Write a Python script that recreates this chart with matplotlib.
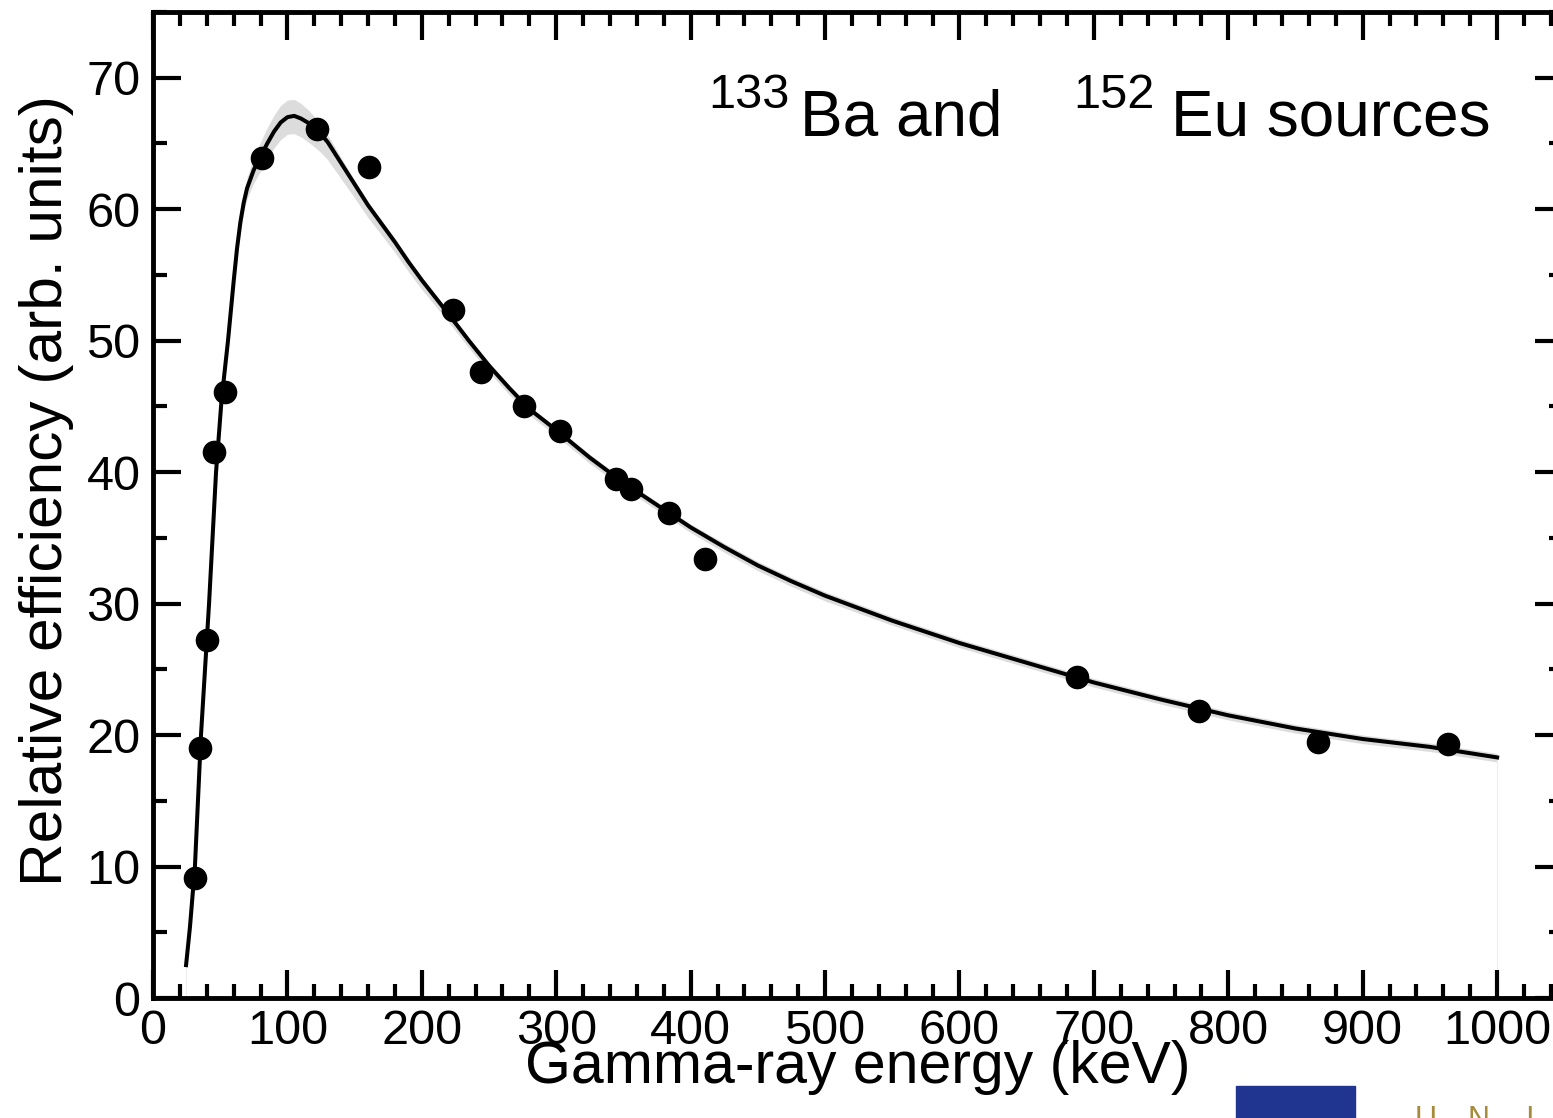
import numpy as np
import matplotlib.pyplot as plt
from matplotlib.patches import Rectangle

plt.rcParams['font.family'] = ['Liberation Sans', 'DejaVu Sans']

# measured relative efficiency points
energy = [31.2, 35.0, 40.2, 45.4, 53.6, 81.1, 122.0, 160.7, 223.2, 244.0,
          276.0, 302.8, 344.5, 355.7, 383.9, 410.7, 687.5, 778.3, 866.8, 963.5]
efficiency = [9.1, 19.0, 27.2, 41.5, 46.1, 63.9, 66.1, 63.2, 52.3, 47.6,
              45.0, 43.1, 39.5, 38.7, 36.9, 33.4, 24.4, 21.8, 19.5, 19.3]

# fitted efficiency curve with its uncertainty band
fit_energy = [24.6, 27.5, 31.2, 35.7, 41.7, 46.9, 51.0, 55.8, 60.0, 62.5,
              65.0, 67.5, 70.0, 75.0, 80.0, 85.0, 90.0, 95.0, 100.0, 105.0,
              110.0, 115.0, 120.0, 125.0, 130.0, 140.0, 150.0, 160.0, 170.0, 180.0,
              190.0, 200.0, 210.0, 220.0, 235.0, 250.0, 265.0, 280.0, 300.0, 325.0,
              350.0, 375.0, 400.0, 425.0, 450.0, 475.0, 500.0, 550.0, 600.0, 650.0,
              700.0, 750.0, 800.0, 850.0, 900.0, 950.0, 1000.0]
fit_eff = [2.5, 5.4, 10.0, 20.0, 30.0, 40.0, 45.5, 50.0, 54.5, 57.0,
           59.0, 60.5, 61.6, 63.0, 64.0, 65.0, 65.9, 66.6, 67.0, 67.1,
           66.9, 66.6, 66.2, 65.7, 65.1, 63.5, 61.9, 60.3, 58.9, 57.5,
           56.0, 54.6, 53.3, 52.0, 50.0, 48.1, 46.4, 44.8, 43.2, 41.1,
           39.2, 37.5, 35.8, 34.3, 32.9, 31.7, 30.6, 28.7, 27.0, 25.5,
           24.0, 22.7, 21.5, 20.5, 19.7, 19.1, 18.3]
band_lo = [0.1, 0.1, 0.1, 0.1, 0.1, 0.15, 0.2, 0.3, 0.4, 0.5,
           0.6, 0.7, 0.8, 1.0, 1.1, 1.2, 1.25, 1.3, 1.3, 1.35,
           1.4, 1.45, 1.45, 1.4, 1.35, 1.2, 1.05, 0.95, 0.85, 0.8,
           0.75, 0.7, 0.65, 0.6, 0.55, 0.5, 0.5, 0.45, 0.45, 0.45,
           0.4, 0.4, 0.4, 0.4, 0.4, 0.4, 0.4, 0.35, 0.35, 0.35,
           0.35, 0.35, 0.35, 0.35, 0.35, 0.35, 0.35]
band_hi = [0.1, 0.1, 0.1, 0.1, 0.1, 0.15, 0.2, 0.3, 0.4, 0.5,
           0.6, 0.7, 0.8, 1.0, 1.1, 1.2, 1.25, 1.3, 1.3, 1.25,
           1.15, 1.0, 0.85, 0.7, 0.55, 0.4, 0.3, 0.25, 0.2, 0.2,
           0.2, 0.2, 0.2, 0.2, 0.2, 0.2, 0.2, 0.2, 0.2, 0.25,
           0.25, 0.25, 0.25, 0.3, 0.3, 0.3, 0.3, 0.3, 0.3, 0.3,
           0.3, 0.3, 0.3, 0.3, 0.3, 0.3, 0.3]

fig = plt.figure(figsize=(15.53, 11.18), dpi=100)
ax = fig.add_axes([153 / 1553, 120 / 1118, 1410 / 1553, 986 / 1118])

fe = np.array(fit_energy)
fy = np.array(fit_eff)
ax.fill_between(fe, fy - np.array(band_lo), fy + np.array(band_hi),
                color='#dcdcdc', lw=0, zorder=1)
ax.vlines([fe[0], fe[-1]], 0, [fy[0], fy[-1]], color='#eeeeee', lw=0.8, zorder=1)
ax.plot(fe, fy, color='black', lw=2.9, zorder=2, solid_joinstyle='round')
ax.plot(energy, efficiency, 'o', color='black', ms=16, zorder=3)

ax.set_xlim(0, 1049)
ax.set_ylim(0, 75)
ax.set_xticks(np.arange(0, 1001, 100))
ax.set_xticks(np.arange(0, 1041, 20), minor=True)
ax.set_yticks(np.arange(0, 71, 10))
ax.set_yticks(np.arange(0, 76, 5), minor=True)

for s in ax.spines.values():
    s.set_linewidth(3.5)
ax.tick_params(which='both', direction='in', top=True, right=True, width=3,
               labelsize=35, colors='black')
ax.tick_params(which='major', length=20)
ax.tick_params(which='minor', length=10)
ax.tick_params(axis='x', pad=8)
ax.tick_params(axis='y', pad=9)

ax.set_xlabel('Gamma-ray energy (keV)', fontsize=42.5)
ax.xaxis.set_label_coords(0.5, -0.043)
ax.set_ylabel('Relative efficiency (arb. units)', fontsize=43.5)
ax.yaxis.set_label_coords(-0.056, 0.515)

# source label with mass-number superscripts
W, H = 1553, 1118
fig.text(708 / W, 1 - 108 / H, '133', fontsize=35, va='baseline')
fig.text(800 / W, 1 - 135 / H, 'Ba and', fontsize=46, va='baseline')
fig.text(1073 / W, 1 - 108 / H, '152', fontsize=35, va='baseline')
fig.text(1171 / W, 1 - 135 / H, 'Eu sources', fontsize=46, va='baseline')

# university logo peeking in at the bottom corner
fig.patches.append(Rectangle((1236 / W, 0), 119 / W, 32 / H,
                             transform=fig.transFigure, color='#1f3590'))
for x, ch in zip([1415, 1467, 1525], ['U', 'N', 'I']):
    fig.text(x / W, 1 - 1105 / H, ch, fontsize=22, color='#a58b3a', va='top')

fig.savefig('out.png', dpi=100)
